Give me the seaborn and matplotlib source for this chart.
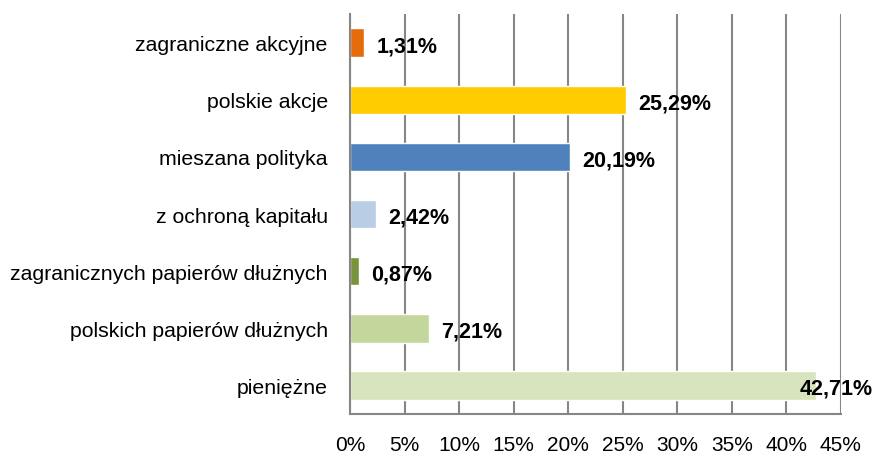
import pandas as pd
import numpy as np
import seaborn as sns
import matplotlib.pyplot as plt
from matplotlib.ticker import FixedLocator

# Data (top to bottom)
categories = ['zagraniczne akcyjne', 'polskie akcje', 'mieszana polityka',
              'z ochroną kapitału', 'zagranicznych papierów dłużnych',
              'polskich papierów dłużnych', 'pieniężne']
values = [1.31, 25.29, 20.19, 2.42, 0.87, 7.21, 42.71]
colors = ['#E46C0A', '#FFCC00', '#4F81BD', '#B9CDE5', '#77933C', '#C3D69B', '#D7E4BD']
labels = ['1,31%', '25,29%', '20,19%', '2,42%', '0,87%', '7,21%', '42,71%']
xticks = [0, 5, 10, 15, 20, 25, 30, 35, 40, 45]

df = pd.DataFrame({'kategoria': categories, 'udzial': values})

sns.set_style('white')
plt.rcParams['font.family'] = ['Liberation Sans', 'DejaVu Sans']

fig = plt.figure(figsize=(8.75, 4.6), dpi=100)
ax = fig.add_axes([0.4, 0.098, 0.561, 0.869])

sns.barplot(data=df, x='udzial', y='kategoria', hue='kategoria', order=categories,
            palette=colors, width=0.5, legend=False, saturation=1, ax=ax)

ax.set_xlim(0, 45)
ax.set_ylim(len(categories) - 0.5, -0.5)
ax.set_xticks(xticks)
ax.set_xticklabels([f'{t}%' for t in xticks], fontsize=15)
ax.tick_params(axis='y', which='major', length=0, labelsize=15.3, pad=16, labelcolor='black')
ax.yaxis.set_minor_locator(FixedLocator(np.arange(-0.5, len(categories), 1.0)))
ax.tick_params(axis='y', which='minor', length=5, width=1.5, color='#868686', direction='out')
ax.tick_params(axis='x', length=5, width=1.5, color='#868686', direction='out', pad=10,
               labelcolor='black')
ax.set_xlabel('')
ax.set_ylabel('')

ax.grid(axis='x', color='#868686', linewidth=1.5)
ax.set_axisbelow(True)
for s in ['top', 'right']:
    ax.spines[s].set_visible(False)
for s in ['left', 'bottom']:
    ax.spines[s].set_color('#868686')
    ax.spines[s].set_linewidth(1.5)

for i, (v, lab) in enumerate(zip(values, labels)):
    ax.text(min(v + 1.1, 41.2), i + 0.05, lab, ha='left', va='center',
            fontsize=15.5, fontweight='bold', color='black')

fig.savefig('out.png', dpi=100)
